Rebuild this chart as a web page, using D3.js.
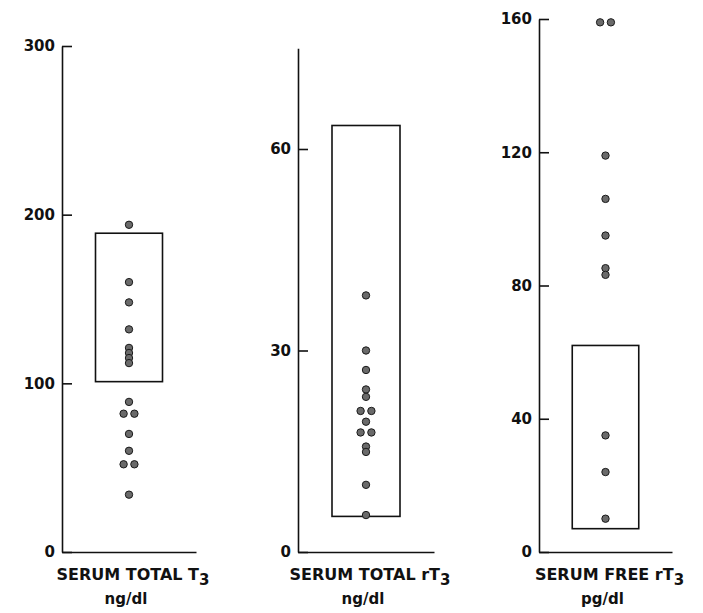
<!DOCTYPE html>
<html><head><meta charset="utf-8">
<script src="https://cdn.jsdelivr.net/npm/d3@7"></script>
<style>
body{margin:0;background:#fff}
svg{display:block}
text{font-family:"DejaVu Sans",sans-serif;fill:#111}
</style>
</head><body>
<svg id="chart" width="703" height="613"></svg>
<script>
// ---- data ----
const totalT3Values    = [194,160,148,132,121,118,115,112,89,82,82,70,60,52,52,34];
const totalRT3Values   = [38.2,30,27.1,24.2,23.1,21,21,19.4,17.8,17.8,15.7,14.9,10,5.5];
const freeRT3Values    = [159,159,119,106,95,85.2,83.2,35,24,10];
const normalTotalT3    = [101,189];
const normalTotalRT3   = [5.3,63.5];
const normalFreeRT3    = [7,62];
const ticksTotalT3     = [0,100,200,300];
const ticksTotalRT3    = [0,30,60];
const ticksFreeRT3     = [0,40,80,120,160];
const axisMaxima       = [300,75,160];
const panelTitles      = ["SERUM TOTAL T","SERUM TOTAL rT","SERUM FREE rT"];
const panelSubscripts  = ["3","3","3"];
const panelUnits       = ["ng/dl","ng/dl","pg/dl"];

const seriesList = [totalT3Values,totalRT3Values,freeRT3Values];
const rangeList  = [normalTotalT3,normalTotalRT3,normalFreeRT3];
const tickList   = [ticksTotalT3,ticksTotalRT3,ticksFreeRT3];

// ---- layout ----
const svg = d3.select("#chart");
const baseY = 552;
const layout = [
  {x0:62,  w:134, top:46},
  {x0:298, w:136, top:552-75*(403/60)},
  {x0:539, w:133, top:19}
];
const dotR = 3.7, pairGap = 5.4;

layout.forEach((L,i)=>{
  const g = svg.append("g");
  const y = d3.scaleLinear().domain([0,axisMaxima[i]]).range([baseY,L.top]);
  const x = d3.scaleLinear().domain([0,1]).range([L.x0,L.x0+L.w]);

  // y axis
  const ya = g.append("g").attr("transform",`translate(${L.x0},0)`)
    .call(d3.axisLeft(y).tickValues(tickList[i]).tickFormat(d3.format("d"))
      .tickSizeInner(-10).tickSizeOuter(0).tickPadding(7));
  ya.selectAll("path,line").attr("stroke","#111").attr("stroke-width",1.6);
  ya.selectAll("text").style("font-size","15px").style("font-weight","bold").attr("fill","#111");

  // x axis (baseline only)
  const xa = g.append("g").attr("transform",`translate(0,${baseY})`)
    .call(d3.axisBottom(x).tickValues([]).tickSizeOuter(0));
  xa.selectAll("path").attr("stroke","#111").attr("stroke-width",1.6);

  // normal range box
  const r = rangeList[i];
  g.append("rect")
    .attr("x",x(0.25)).attr("width",x(0.75)-x(0.25))
    .attr("y",y(r[1])).attr("height",y(r[0])-y(r[1]))
    .attr("fill","none").attr("stroke","#111").attr("stroke-width",1.6);

  // dots: identical values placed side by side
  const counts = d3.rollup(seriesList[i], v=>v.length, d=>d);
  const seen = new Map();
  const pts = seriesList[i].map(v=>{
    const n = counts.get(v), k = seen.get(v)||0; seen.set(v,k+1);
    const off = (k-(n-1)/2)*pairGap*2;
    return {v, off};
  });
  g.selectAll("circle").data(pts).join("circle")
    .attr("cx",d=>x(0.5)+d.off).attr("cy",d=>y(d.v)).attr("r",dotR)
    .attr("fill","#6a6a6a").attr("stroke","#1a1a1a").attr("stroke-width",1);

  // titles
  const cx = x(0.5);
  const t = g.append("text").attr("x",cx+4).attr("y",580)
    .attr("text-anchor","middle").style("font-size","16px").style("font-weight","bold");
  t.append("tspan").text(panelTitles[i]);
  t.append("tspan").attr("dy",5).style("font-size","15px").text(panelSubscripts[i]);
  g.append("text").attr("x",cx-3).attr("y",604).attr("text-anchor","middle")
    .style("font-size","15px").style("font-weight","bold").text(panelUnits[i]);
});
</script>
</body></html>
